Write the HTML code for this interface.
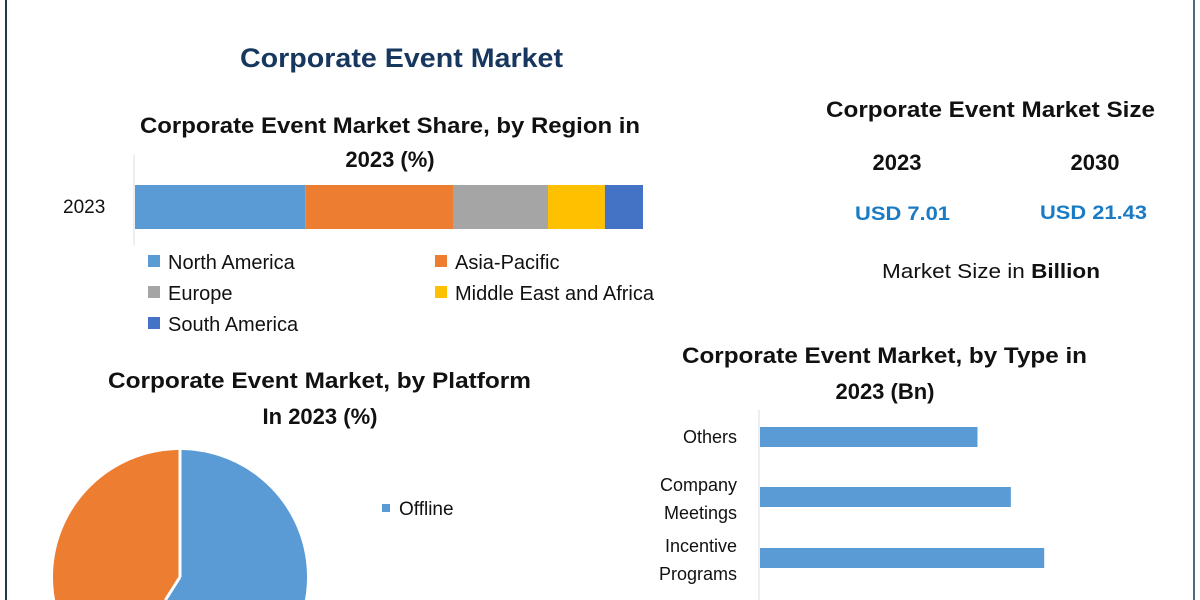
<!DOCTYPE html>
<html><head><meta charset="utf-8"><style>
html,body{margin:0;padding:0;background:#fff;width:1200px;height:600px;overflow:hidden}
svg{display:block;overflow:hidden}
text{font-family:"Liberation Sans Narrow","Liberation Sans",sans-serif}
</style></head><body>
<svg id="c" width="1200" height="600" viewBox="0 0 1200 600">
<line x1="6" y1="0" x2="6" y2="600" stroke="#1e3a4c" stroke-width="2"/>
<line x1="1194" y1="0" x2="1194" y2="600" stroke="#4a6a80" stroke-width="2"/>
<text x="240" y="67" font-size="27" font-weight="bold" fill="#17375e" textLength="323" lengthAdjust="spacingAndGlyphs">Corporate Event Market</text>
<text x="140" y="133" font-size="22" font-weight="bold" fill="#111" textLength="500" lengthAdjust="spacingAndGlyphs">Corporate Event Market Share, by Region in</text>
<text x="390" y="167" font-size="22" font-weight="bold" fill="#111" text-anchor="middle">2023 (%)</text>
<text x="63" y="213" font-size="19" fill="#111">2023</text>
<line x1="134" y1="155" x2="134" y2="245" stroke="#ddd"/>
<g id="stack"></g>
<g id="leg"></g>
<text x="826" y="117" font-size="22" font-weight="bold" fill="#111" textLength="329" lengthAdjust="spacingAndGlyphs">Corporate Event Market Size</text>
<text x="897" y="170" font-size="22" font-weight="bold" fill="#111" text-anchor="middle">2023</text>
<text x="1095" y="170" font-size="22" font-weight="bold" fill="#111" text-anchor="middle">2030</text>
<text x="855" y="220" font-size="19" font-weight="bold" fill="#1a7bc4" textLength="95" lengthAdjust="spacingAndGlyphs">USD 7.01</text>
<text x="1040" y="219" font-size="19" font-weight="bold" fill="#1a7bc4" textLength="107" lengthAdjust="spacingAndGlyphs">USD 21.43</text>
<text x="882" y="278" font-size="20" fill="#111" textLength="218" lengthAdjust="spacingAndGlyphs">Market Size in <tspan font-weight="bold">Billion</tspan></text>
<text x="108" y="388" font-size="22" font-weight="bold" fill="#111" textLength="423" lengthAdjust="spacingAndGlyphs">Corporate Event Market, by Platform</text>
<text x="320" y="424" font-size="22" font-weight="bold" fill="#111" text-anchor="middle">In 2023 (%)</text>
<g id="pie"></g>
<rect x="382" y="504" width="8" height="8" fill="#5b9bd5"/>
<text x="399" y="515" font-size="19" fill="#111">Offline</text>
<text x="682" y="363" font-size="22" font-weight="bold" fill="#111" textLength="405" lengthAdjust="spacingAndGlyphs">Corporate Event Market, by Type in</text>
<text x="885" y="399" font-size="22" font-weight="bold" fill="#111" text-anchor="middle">2023 (Bn)</text>
<line x1="759" y1="410" x2="759" y2="600" stroke="#ddd"/>
<g id="bars"></g>
</svg>
<script>
const regions=["North America","Asia-Pacific","Europe","Middle East and Africa","South America"];
const regionShare=[33.5,29.1,18.7,11.2,7.5];
const regionColors=["#5b9bd5","#ed7d31","#a5a5a5","#ffc000","#4472c4"];
const platforms=["Offline","Online"];
const platformShare=[59,41];
const types=["Others","Company Meetings","Incentive Programs"];
const typeValues=[1.5,1.73,1.96];
const NS="http://www.w3.org/2000/svg";
function mk(t,a,p){const e=document.createElementNS(NS,t);for(const k in a)e.setAttribute(k,a[k]);p.appendChild(e);return e;}
const sx=v=>v*508/100;
let x0=135;const st=document.getElementById('stack');
regionShare.forEach((v,i)=>{const r=mk('rect',{x:x0,y:185,width:sx(v),height:44,fill:regionColors[i]},st);

x0+=sx(v);});
const lg=document.getElementById('leg');
const lp=[[148,261],[435,261],[148,292],[435,292],[148,323]];
regions.forEach((n,i)=>{const [lx,ly]=lp[i];
const s=mk('rect',{x:lx,y:ly-6,width:12,height:12,fill:regionColors[i]},lg);


const t=mk('text',{x:lx+20,y:ly+8,'font-size':20,fill:'#111'},lg);t.textContent=n;

});
const pg=document.getElementById('pie');const cx=180,cy=577,R=127;const pc=["#5b9bd5","#ed7d31"];
const YMAX=600;
function clipY(poly){const out=[];for(let k=0;k<poly.length;k++){const a=poly[k],b=poly[(k+1)%poly.length];
const ain=a[1]<=YMAX,bin=b[1]<=YMAX;
if(ain)out.push(a);
if(ain!==bin){const t=(YMAX-a[1])/(b[1]-a[1]);out.push([a[0]+t*(b[0]-a[0]),YMAX]);}}
return out;}
let a0=0;const tot=platformShare.reduce((a,b)=>a+b,0);const bounds=[];
platformShare.forEach((v,i)=>{const a1=a0+v/tot*2*Math.PI;bounds.push(a0);
const pts=[[cx,cy]];const n=180;
for(let k=0;k<=n;k++){const a=a0+(a1-a0)*k/n;pts.push([cx+R*Math.sin(a),cy-R*Math.cos(a)]);}
const cp=clipY(pts);
const d='M'+cp.map(p=>p[0].toFixed(2)+','+p[1].toFixed(2)).join('L')+'Z';
const s=mk('path',{d:d,fill:pc[i]},pg);

a0=a1;});
bounds.forEach(a=>{let x2=cx+R*Math.sin(a),y2=cy-R*Math.cos(a);
if(y2>YMAX){const t=(YMAX-cy)/(y2-cy);x2=cx+t*(x2-cx);y2=YMAX;}
const l=mk('line',{x1:cx,y1:cy,x2:x2,y2:y2,stroke:'#fff','stroke-width':3},pg);

});
const bg=document.getElementById('bars');const bx=v=>v*145;const ys=[437,497,558];
const labs=[["Others"],["Company","Meetings"],["Incentive","Programs"]];
typeValues.forEach((v,i)=>{const r=mk('rect',{x:760,y:ys[i]-10,width:bx(v),height:20,fill:'#5b9bd5'},bg);


labs[i].forEach((l,j)=>{const t=mk('text',{x:737,y:labs[i].length==1?ys[i]+6:ys[i]-6+j*28,'font-size':18,fill:'#111','text-anchor':'end'},bg);t.textContent=l;

});});
</script>
</body></html>
